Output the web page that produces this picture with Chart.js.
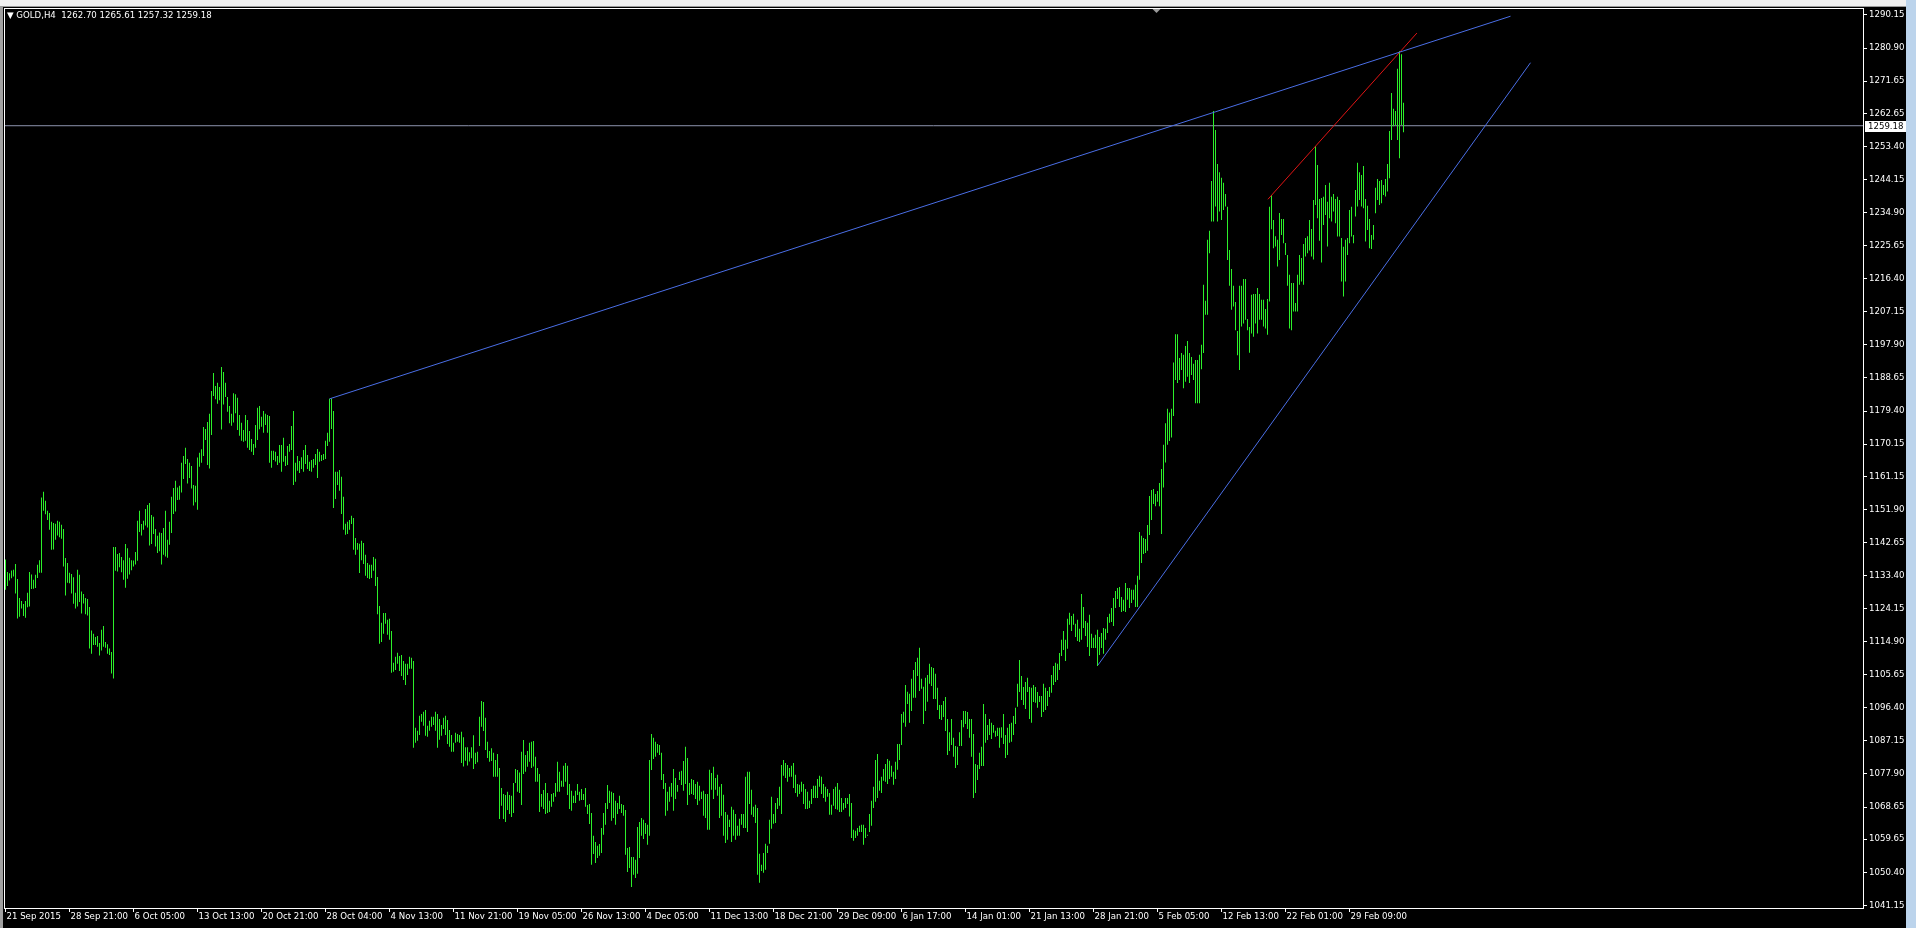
<!DOCTYPE html>
<html>
<head>
<meta charset="utf-8">
<title>GOLD,H4</title>
<script src="https://cdn.jsdelivr.net/npm/chart.js@4.4.1/dist/chart.umd.min.js"></script>
<style>
  html, body { margin: 0; padding: 0; background: #000; overflow: hidden; }
  #wrap { position: relative; width: 1916px; height: 928px; }
  #toolbar { position: absolute; left: 0; top: 0; width: 1916px; height: 6px; background: #f0f0f0; border-bottom: 1px solid #9a9a9a; }
  #scroll { position: absolute; right: 0; top: 0; width: 10px; height: 928px; background: #bcd4ec; }
  #edge { position: absolute; left: 0; top: 7px; width: 3px; height: 921px; background: #a0a0a0; }
  #title { position: absolute; left: 7px; top: 10px; color: #fff; font: 8.6px "DejaVu Sans"; white-space: pre; }
</style>
</head>
<body>
<div id="wrap">
  <canvas id="chart" width="1916" height="928"></canvas>
  <div id="toolbar"></div>
  <div id="edge"></div>
  <div id="scroll"></div>
  <div id="title">▼ GOLD,H4  1262.70 1265.61 1257.32 1259.18</div>
</div>
<script>
// barras H4: máxima e mínima de cada barra (índice = número da barra)
const barHigh = [
  1137.9,1134.4,1134.0,1134.8,1135.0,1136.6,1132.4,1127.1,1126.3,1125.4,
  1126.3,1128.6,1134.4,1133.7,1132.2,1133.6,1136.4,1137.7,1155.2,1156.8,
  1154.3,1151.5,1150.9,1148.4,1148.1,1147.9,1148.7,1148.4,1147.6,1146.4,
  1138.3,1136.9,1134.2,1133.8,1132.9,1128.6,1135.0,1133.6,1128.9,1128.2,
  1127.1,1126.8,1124.6,1118.0,1117.1,1116.2,1116.5,1114.5,1118.2,1119.3,
  1114.8,1114.2,1113.0,1112.0,1141.4,1141.4,1139.4,1139.7,1138.6,1137.7,
  1142.2,1141.0,1138.4,1137.7,1137.6,1140.0,1148.7,1151.5,1147.8,1148.7,
  1152.0,1153.1,1153.7,1150.3,1149.8,1146.4,1144.5,1145.4,1145.3,1146.7,
  1151.5,1143.4,1148.4,1155.4,1157.9,1159.9,1158.0,1158.5,1164.9,1166.8,
  1169.1,1166.0,1164.9,1164.0,1158.7,1158.5,1166.4,1167.7,1168.7,1174.9,
  1174.4,1176.3,1178.6,1185.0,1190.0,1186.4,1187.3,1186.1,1191.7,1190.3,
  1187.3,1183.3,1180.8,1178.6,1184.4,1184.1,1183.1,1178.3,1176.1,1174.1,
  1178.3,1176.9,1173.8,1171.6,1170.2,1175.5,1180.3,1180.8,1177.8,1179.4,
  1178.6,1178.3,1178.0,1168.3,1168.3,1168.0,1166.8,1169.9,1169.9,1171.9,
  1166.8,1169.6,1170.2,1175.2,1179.4,1164.9,1166.8,1165.4,1166.5,1168.5,
  1169.9,1167.1,1165.2,1165.7,1166.0,1167.4,1168.8,1168.0,1167.1,1167.4,
  1171.1,1173.3,1182.8,1182.9,1179.4,1162.4,1162.4,1162.9,1161.0,1155.4,
  1147.9,1148.4,1148.9,1150.1,1149.5,1143.9,1142.5,1142.3,1143.1,1142.5,
  1139.2,1136.9,1136.4,1136.4,1138.6,1138.1,1133.0,1124.9,1120.2,1122.9,
  1122.9,1121.0,1121.3,1117.9,1109.0,1110.7,1111.8,1110.9,1111.2,1109.5,
  1108.7,1108.7,1110.7,1110.4,1109.5,1090.8,1090.0,1094.2,1094.7,1095.3,
  1095.8,1091.4,1092.8,1093.9,1093.9,1095.3,1094.7,1093.3,1091.6,1093.6,
  1094.2,1093.0,1090.2,1088.8,1086.6,1089.4,1089.1,1088.8,1089.7,1088.2,
  1085.4,1085.4,1084.0,1085.4,1088.7,1083.8,1084.1,1093.9,1098.3,1098.0,
  1093.6,1086.9,1084.3,1085.1,1083.8,1081.8,1083.5,1079.6,1074.0,1072.3,
  1072.0,1072.9,1072.0,1071.8,1075.4,1079.3,1079.0,1078.3,1084.1,1087.4,
  1083.2,1084.3,1086.6,1086.9,1087.1,1082.7,1079.6,1077.9,1072.3,1073.4,
  1075.4,1072.6,1070.4,1072.3,1072.6,1075.4,1081.3,1078.5,1076.0,1080.2,
  1081.0,1080.2,1075.1,1073.2,1071.8,1073.2,1075.1,1072.9,1073.7,1072.3,
  1074.0,1069.2,1069.5,1067.0,1060.6,1058.9,1057.8,1058.3,1062.8,1067.0,
  1069.8,1074.8,1073.2,1072.9,1072.6,1070.4,1069.8,1071.8,1069.5,1069.2,
  1067.8,1057.2,1057.5,1054.7,1054.7,1053.9,1063.1,1064.5,1065.6,1065.1,
  1064.2,1063.7,1081.8,1089.1,1088.0,1086.9,1086.3,1086.0,1083.8,1077.9,
  1075.4,1072.9,1074.3,1075.4,1079.3,1076.8,1074.8,1078.5,1078.8,1081.5,
  1085.5,1082.4,1075.4,1076.5,1076.2,1075.1,1075.7,1074.6,1072.9,1073.2,
  1072.3,1072.3,1079.1,1078.2,1079.9,1076.8,1077.7,1074.3,1075.1,1072.1,
  1067.3,1066.5,1065.1,1068.7,1067.9,1066.7,1063.4,1065.4,1066.7,1066.7,
  1077.1,1078.5,1078.5,1073.5,1068.7,1069.3,1068.4,1055.6,1052.5,1055.8,
  1058.4,1057.8,1065.1,1071.5,1066.7,1069.8,1071.2,1074.3,1080.4,1081.8,
  1081.0,1080.4,1079.6,1080.2,1081.0,1077.7,1075.1,1074.9,1075.7,1075.1,
  1073.7,1072.9,1070.4,1073.7,1074.6,1074.6,1076.5,1077.4,1077.1,1075.1,
  1074.3,1073.7,1072.6,1069.3,1073.7,1074.3,1075.4,1073.5,1071.2,1069.8,
  1071.2,1071.2,1072.3,1069.8,1062.3,1062.0,1062.8,1063.4,1063.7,1063.7,
  1062.8,1060.9,1066.7,1070.4,1074.3,1081.8,1083.5,1076.0,1077.1,1079.3,
  1080.7,1082.1,1081.6,1080.2,1078.5,1081.3,1086.3,1086.3,1094.7,1095.3,
  1102.8,1100.9,1100.3,1104.5,1107.0,1109.2,1110.4,1113.2,1104.5,1102.3,
  1104.8,1105.6,1108.7,1107.8,1107.5,1105.9,1102.0,1097.2,1097.2,1098.3,
  1099.4,1093.3,1089.6,1093.3,1088.0,1085.7,1085.5,1089.6,1093.0,1095.5,
  1095.5,1095.2,1093.3,1093.3,1089.1,1080.7,1080.4,1083.8,1085.5,1097.5,
  1094.7,1091.6,1093.3,1092.2,1091.6,1090.0,1090.8,1090.8,1091.0,1094.7,
  1088.8,1090.8,1091.9,1092.2,1094.1,1096.4,1103.1,1109.8,1105.3,1102.2,
  1103.6,1104.8,1102.2,1102.0,1102.8,1102.2,1100.8,1099.7,1099.7,1103.1,
  1102.0,1101.1,1102.2,1105.6,1108.1,1109.0,1108.7,1111.7,1115.4,1117.9,
  1115.4,1121.3,1123.0,1122.1,1122.7,1119.9,1121.0,1118.5,1128.2,1124.6,
  1120.7,1120.2,1122.4,1117.1,1116.0,1116.8,1118.2,1116.2,1117.3,1118.7,
  1118.5,1121.8,1122.7,1124.3,1127.1,1129.1,1129.9,1130.2,1127.4,1126.6,
  1131.3,1129.9,1129.9,1129.4,1129.4,1130.8,1133.3,1145.6,1144.5,1143.9,
  1143.6,1147.5,1155.6,1157.3,1157.6,1156.2,1157.0,1159.3,1163.2,1170.0,
  1176.0,1180.0,1179.0,1180.0,1193.0,1200.9,1200.9,1194.2,1195.6,1195.1,
  1197.6,1199.0,1195.6,1194.5,1192.6,1193.7,1193.7,1195.1,1197.9,1214.7,
  1210.2,1227.3,1229.8,1243.7,1263.3,1258.0,1248.5,1246.2,1244.6,1243.2,
  1240.1,1236.5,1224.4,1219.1,1214.4,1209.9,1201.8,1214.4,1214.4,1216.3,
  1216.3,1205.1,1202.9,1211.9,1212.1,1212.1,1213.8,1212.1,1210.5,1210.5,
  1207.9,1210.7,1236.5,1239.8,1232.8,1228.3,1227.3,1234.8,1233.1,1233.1,
  1226.4,1223.0,1217.5,1215.2,1215.2,1209.6,1217.5,1223.0,1222.2,1226.1,
  1227.8,1228.3,1232.8,1230.3,1238.4,1253.5,1248.2,1238.7,1239.0,1239.3,
  1242.6,1237.9,1243.2,1239.3,1240.1,1238.7,1239.3,1238.4,1227.8,1225.3,
  1227.3,1227.8,1235.6,1236.5,1228.6,1241.2,1248.8,1246.2,1245.4,1247.9,
  1238.7,1236.8,1233.1,1228.6,1231.4,1241.8,1244.3,1243.7,1244.0,1242.6,
  1244.3,1248.5,1257.7,1268.3,1263.9,1263.3,1275.1,1280.1,1279.2,1265.61
];
const barLow = [
  1129.4,1130.5,1132.0,1132.6,1133.1,1128.4,1121.4,1121.9,1124.2,1122.1,
  1121.6,1124.5,1124.7,1129.6,1129.7,1129.9,1132.7,1134.2,1134.2,1151.5,
  1150.5,1148.9,1146.2,1140.6,1140.7,1143.4,1144.6,1144.1,1143.7,1135.9,
  1127.8,1131.4,1131.2,1128.4,1125.5,1124.2,1124.7,1126.0,1122.8,1125.6,
  1122.6,1122.2,1113.0,1111.5,1114.0,1114.0,1113.5,1111.0,1112.4,1113.5,
  1113.2,1111.5,1111.2,1106.0,1104.6,1134.7,1134.5,1135.7,1134.3,1132.2,
  1130.0,1132.5,1133.7,1134.9,1135.9,1136.5,1137.5,1145.6,1144.6,1146.2,
  1147.4,1146.8,1141.8,1142.2,1145.0,1141.5,1139.7,1140.2,1136.5,1139.2,
  1138.7,1138.4,1142.0,1145.3,1150.6,1151.3,1154.5,1154.6,1156.6,1160.4,
  1164.6,1159.1,1160.7,1157.7,1153.0,1153.9,1151.8,1163.8,1164.9,1166.8,
  1171.3,1164.3,1163.3,1172.7,1183.6,1182.7,1181.4,1182.4,1174.2,1181.2,
  1183.3,1179.2,1176.0,1175.3,1176.2,1178.8,1174.1,1172.5,1171.1,1170.8,
  1171.1,1169.1,1168.5,1168.0,1167.1,1169.1,1171.3,1174.3,1175.0,1173.3,
  1175.5,1173.3,1164.9,1163.5,1165.7,1165.3,1164.3,1164.9,1162.4,1165.2,
  1164.0,1164.3,1168.0,1168.5,1158.7,1159.6,1162.7,1162.1,1163.2,1162.4,
  1164.6,1163.2,1162.6,1162.4,1163.5,1164.3,1160.7,1165.2,1165.4,1165.7,
  1166.0,1169.6,1170.8,1174.4,1152.3,1154.8,1158.7,1157.1,1150.6,1146.2,
  1144.8,1145.0,1146.2,1147.8,1140.6,1139.2,1140.6,1134.1,1137.7,1136.6,
  1133.3,1132.7,1132.4,1132.7,1134.7,1130.5,1122.6,1114.3,1114.8,1117.1,
  1119.9,1116.8,1115.4,1106.2,1106.5,1107.0,1108.7,1106.7,1105.3,1104.2,
  1102.8,1105.6,1107.3,1107.3,1085.2,1086.6,1087.2,1088.8,1092.5,1091.4,
  1088.6,1088.3,1090.0,1091.1,1091.6,1090.0,1085.2,1087.5,1088.6,1090.5,
  1088.8,1086.3,1085.5,1084.1,1084.1,1086.6,1086.9,1086.6,1081.0,1080.0,
  1081.6,1080.3,1081.4,1082.3,1079.3,1080.7,1081.2,1085.7,1091.1,1089.9,
  1084.6,1082.4,1081.3,1081.5,1077.1,1077.1,1077.1,1065.3,1069.0,1065.3,
  1064.5,1067.8,1066.7,1065.9,1067.0,1075.4,1072.9,1072.6,1069.2,1077.9,
  1078.5,1079.9,1081.3,1079.6,1080.0,1075.7,1075.7,1067.3,1068.7,1068.1,
  1066.7,1067.0,1067.3,1068.7,1070.1,1071.5,1072.9,1072.9,1074.3,1074.3,
  1075.7,1072.0,1068.1,1067.6,1069.8,1069.8,1072.0,1070.4,1070.6,1070.6,
  1068.7,1066.7,1063.9,1052.5,1055.5,1053.0,1054.4,1055.0,1055.8,1060.9,
  1063.7,1068.1,1069.8,1064.8,1065.6,1063.7,1066.7,1068.1,1067.0,1066.2,
  1055.3,1050.5,1051.6,1046.3,1049.7,1048.8,1050.0,1054.4,1060.6,1059.7,
  1061.1,1058.1,1060.6,1079.0,1082.1,1082.7,1083.8,1083.2,1076.2,1073.7,
  1066.2,1067.6,1070.1,1071.5,1067.6,1070.9,1072.9,1076.2,1074.8,1073.2,
  1075.1,1069.2,1072.0,1072.3,1072.0,1070.9,1069.2,1070.4,1070.9,1066.2,
  1065.6,1062.3,1062.3,1073.5,1070.9,1073.5,1071.8,1065.6,1066.2,1060.6,
  1058.6,1059.5,1063.1,1058.9,1060.6,1059.5,1060.6,1060.6,1063.7,1062.8,
  1062.8,1061.7,1069.5,1066.5,1065.9,1064.2,1049.7,1047.5,1050.8,1050.3,
  1051.1,1055.8,1058.4,1062.6,1064.0,1064.2,1068.1,1069.0,1066.7,1077.4,
  1076.8,1075.7,1077.1,1077.1,1074.0,1072.6,1071.5,1072.3,1072.9,1069.5,
  1068.1,1068.1,1068.4,1069.5,1071.2,1071.2,1071.2,1074.3,1072.3,1071.2,
  1070.1,1071.5,1066.5,1066.5,1069.0,1068.1,1067.9,1067.3,1067.3,1067.9,
  1068.4,1069.5,1066.0,1060.0,1059.2,1060.0,1060.6,1061.7,1061.7,1058.1,
  1060.0,1060.6,1061.7,1063.4,1068.4,1070.1,1071.2,1073.2,1072.6,1076.0,
  1075.7,1075.1,1076.5,1077.1,1074.9,1076.5,1079.1,1081.8,1086.0,1092.2,
  1091.1,1097.5,1092.2,1095.5,1099.2,1099.2,1105.3,1101.1,1101.7,1091.9,
  1095.5,1098.1,1103.1,1102.5,1098.9,1098.9,1095.8,1093.3,1093.0,1093.8,
  1089.9,1083.2,1084.3,1086.0,1082.7,1079.6,1080.4,1085.7,1085.7,1091.0,
  1091.9,1090.5,1088.0,1082.7,1071.2,1072.6,1076.2,1079.3,1080.1,1080.1,
  1086.6,1087.4,1088.8,1087.7,1089.4,1088.3,1088.5,1085.2,1088.0,1086.3,
  1082.4,1083.2,1086.6,1086.9,1088.8,1091.9,1096.7,1100.8,1098.6,1097.2,
  1096.1,1100.8,1093.3,1092.2,1098.0,1097.8,1096.4,1098.0,1093.8,1095.2,
  1095.8,1096.9,1099.4,1100.6,1102.8,1103.6,1104.2,1107.0,1110.9,1112.6,
  1109.5,1112.9,1119.6,1117.9,1119.6,1116.2,1115.1,1114.8,1115.4,1118.7,
  1116.5,1113.4,1110.9,1113.1,1113.1,1113.1,1108.1,1111.2,1113.1,1111.5,
  1115.4,1117.3,1120.2,1120.4,1119.3,1124.3,1126.8,1124.6,1123.2,1123.5,
  1123.2,1126.6,1124.3,1125.7,1126.6,1124.6,1124.6,1132.2,1136.9,1139.4,
  1139.7,1140.3,1144.7,1148.9,1153.4,1152.8,1154.0,1152.8,1145.0,1158.0,
  1165.0,1170.0,1171.0,1172.0,1178.0,1188.1,1187.2,1188.1,1190.9,1185.8,
  1187.6,1189.0,1187.2,1189.5,1188.1,1181.6,1181.6,1181.6,1191.1,1195.6,
  1206.3,1206.3,1223.5,1232.4,1232.4,1236.6,1232.4,1235.2,1232.8,1235.6,
  1236.6,1221.6,1214.4,1207.7,1208.6,1202.0,1195.0,1190.9,1203.0,1203.9,
  1204.9,1202.0,1195.7,1201.1,1200.2,1203.9,1201.1,1204.9,1204.9,1203.0,
  1202.5,1200.7,1210.0,1230.2,1224.9,1225.4,1219.8,1221.6,1228.6,1226.3,
  1223.0,1214.4,1202.5,1202.0,1207.2,1207.2,1207.2,1214.7,1215.6,1214.7,
  1222.6,1223.5,1224.3,1222.6,1221.8,1237.0,1233.3,1227.0,1220.9,1231.4,
  1234.2,1225.4,1233.3,1232.4,1235.2,1231.9,1228.2,1228.2,1215.6,1211.4,
  1215.6,1223.0,1226.3,1228.2,1226.3,1233.8,1236.6,1238.4,1236.6,1236.1,
  1226.8,1230.0,1224.9,1224.7,1227.3,1234.7,1238.4,1237.0,1237.5,1239.8,
  1239.4,1240.8,1244.5,1255.2,1259.0,1259.4,1255.2,1250.1,1259.4,1257.32
];

// rótulos do eixo de tempo (um a cada 32 barras)
const timeTickBars = [0,32,64,96,128,160,192,224,256,288,320,352,384,416,448,480,512,544,576,608,640,672];
const timeTickLabels = [
  '21 Sep 2015','28 Sep 21:00','6 Oct 05:00','13 Oct 13:00','20 Oct 21:00','28 Oct 04:00',
  '4 Nov 13:00','11 Nov 21:00','19 Nov 05:00','26 Nov 13:00','4 Dec 05:00','11 Dec 13:00',
  '18 Dec 21:00','29 Dec 09:00','6 Jan 17:00','14 Jan 01:00','21 Jan 13:00','28 Jan 21:00',
  '5 Feb 05:00','12 Feb 13:00','22 Feb 01:00','29 Feb 09:00'
];

// escala de preços
const priceTicks = [
  1290.15,1280.90,1271.65,1262.65,1253.40,1244.15,1234.90,1225.65,1216.40,1207.15,
  1197.90,1188.65,1179.40,1170.15,1161.15,1151.90,1142.65,1133.40,1124.15,1114.90,
  1105.65,1096.40,1087.15,1077.90,1068.65,1059.65,1050.40,1041.15
];

// linhas de tendência (barra, preço)
const upperTrend = [{ x: 162, y: 1182.8 }, { x: 752.5, y: 1289.8 }];
const lowerTrend = [{ x: 546.3, y: 1108.4 }, { x: 762.5, y: 1276.8 }];
const redTrend = [{ x: 631.2, y: 1238.6 }, { x: 705.7, y: 1285.1 }];

const bidPrice = 1259.18;
const shiftBar = 575;

const bars = barHigh.map((h, i) => ({ x: i, y: [barLow[i], h] }));
const bidLine = [{ x: -0.75, y: bidPrice }, { x: 928.75, y: bidPrice }];

const fontAxis = { family: 'DejaVu Sans', size: 8.6 };

// moldura, caixa do preço bid e marcador de deslocamento
const extras = {
  id: 'extras',
  afterDraw(chart) {
    const { ctx, chartArea: a, scales } = chart;
    ctx.save();
    ctx.strokeStyle = '#ffffff';
    ctx.lineWidth = 1;
    ctx.strokeRect(a.left + 0.5, a.top + 0.5, a.right - a.left, a.bottom - a.top);

    const y = Math.round(scales.y.getPixelForValue(bidPrice));
    ctx.fillStyle = '#ffffff';
    ctx.fillRect(a.right + 2, y - 5, 41, 11);
    ctx.fillStyle = '#000000';
    ctx.font = '8.6px "DejaVu Sans"';
    ctx.textBaseline = 'middle';
    ctx.fillText(bidPrice.toFixed(2), a.right + 5, y + 0.5);

    const sx = Math.round(scales.x.getPixelForValue(shiftBar)) + 0.5;
    ctx.fillStyle = '#9a9a9a';
    ctx.beginPath();
    ctx.moveTo(sx - 4, a.top + 1);
    ctx.lineTo(sx + 4, a.top + 1);
    ctx.lineTo(sx, a.top + 5);
    ctx.closePath();
    ctx.fill();
    ctx.restore();
  }
};

new Chart(document.getElementById('chart'), {
  type: 'bar',
  data: {
    datasets: [
      { type: 'line', data: bidLine, borderColor: '#8d94ad', borderWidth: 1, pointRadius: 0, order: 3 },
      { type: 'bar', data: bars, backgroundColor: '#2cf02a', barThickness: 1, inflateAmount: 0, borderWidth: 0, order: 2 },
      { type: 'line', data: upperTrend, borderColor: '#4a6ee6', borderWidth: 1, pointRadius: 0, order: 1 },
      { type: 'line', data: lowerTrend, borderColor: '#4a6ee6', borderWidth: 1, pointRadius: 0, order: 1 },
      { type: 'line', data: redTrend, borderColor: '#e01414', borderWidth: 1, pointRadius: 0, order: 1 }
    ]
  },
  options: {
    responsive: false,
    animation: false,
    events: [],
    layout: { padding: { left: 4, top: 8, right: 0, bottom: 0 } },
    plugins: { legend: { display: false }, tooltip: { enabled: false } },
    scales: {
      x: {
        type: 'linear',
        offset: false,
        min: -0.75,
        max: 928.75,
        afterBuildTicks: s => { s.ticks = timeTickBars.map(v => ({ value: v })); },
        afterFit: s => { s.height = 20; },
        grid: { drawOnChartArea: false, offset: false, color: '#ffffff', tickLength: 4 },
        border: { display: false },
        ticks: {
          color: '#ffffff', font: fontAxis, align: 'start', labelOffset: 1, padding: 0,
          maxRotation: 0, autoSkip: false,
          callback: (v, i) => timeTickLabels[i]
        }
      },
      y: {
        position: 'right',
        min: 1040.42,
        max: 1292.10,
        afterBuildTicks: s => { s.ticks = priceTicks.map(v => ({ value: v })); },
        afterFit: s => { s.width = 53; },
        grid: { drawOnChartArea: false, color: '#ffffff', tickLength: 4 },
        border: { display: false },
        ticks: { color: '#ffffff', font: fontAxis, padding: 2, callback: v => v.toFixed(2) }
      }
    }
  },
  plugins: [extras]
});
</script>
</body>
</html>
